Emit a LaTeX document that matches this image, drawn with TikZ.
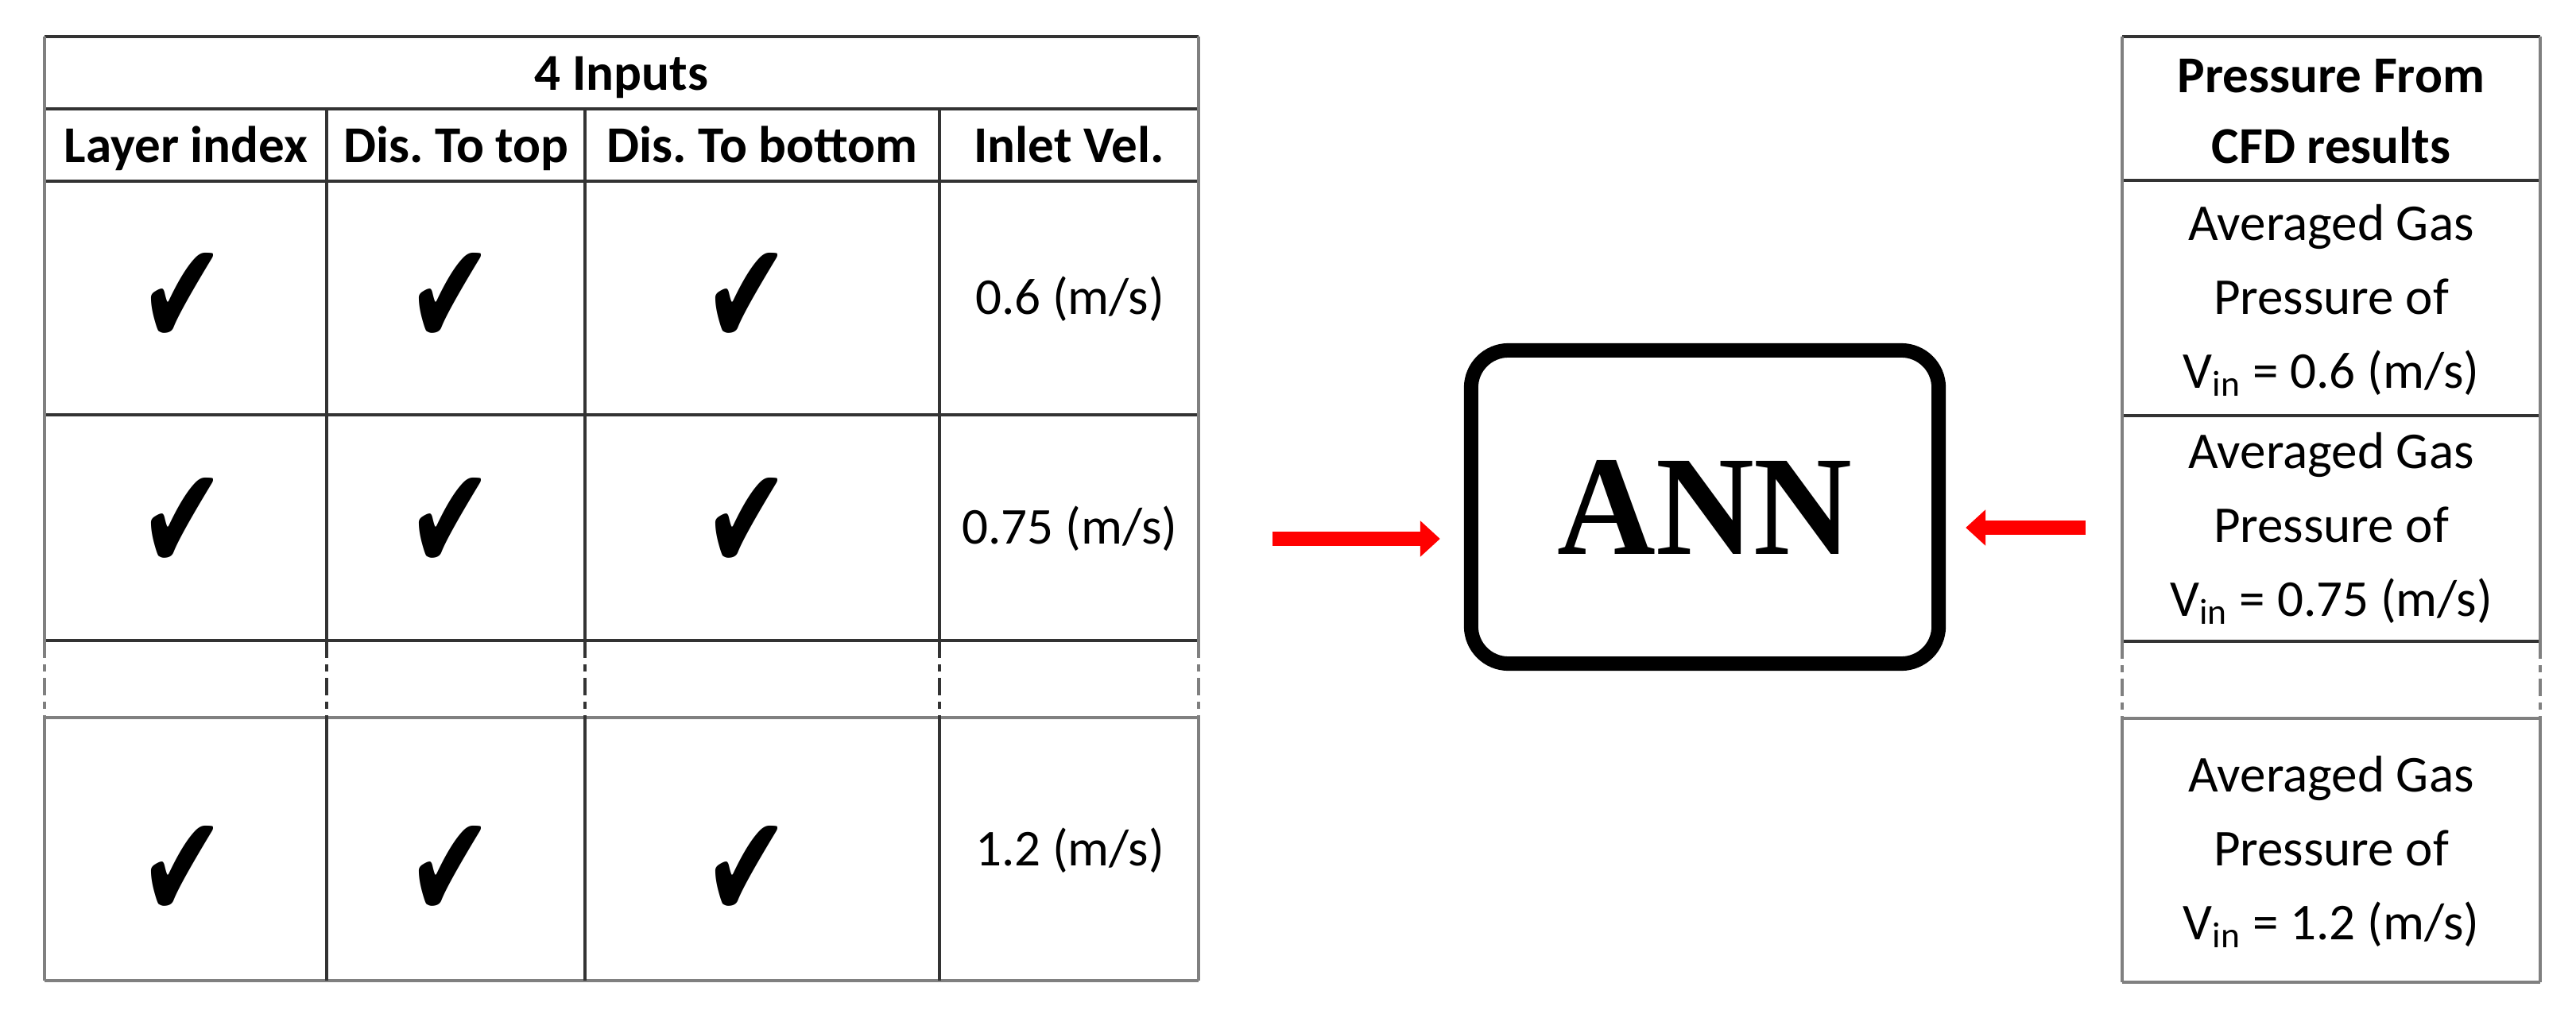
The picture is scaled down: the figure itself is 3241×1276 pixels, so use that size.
\documentclass[tikz,border=0pt]{standalone}
\usepackage{fontspec}
\setmainfont{Carlito}
\newfontfamily\annfont{Liberation Serif}
\newfontfamily\chkfont{DejaVu Sans}
\usetikzlibrary{arrows.meta}
\newcommand{\chkmk}{\resizebox*{1.08cm}{1.17cm}{\chkfont ✔}}
\frenchspacing
\begin{document}
\begin{tikzpicture}[x=0.01cm,y=-0.01cm,
  outerline/.style={draw=black!50, line width=0.045cm},
  innerline/.style={draw=black!80, line width=0.032cm},
  dashline/.style={line width=0.038cm, dash pattern=on 0.22cm off 0.08cm on 0.09cm off 0.08cm},
  hdr/.style={font=\fontsize{18.5}{22}\selectfont\bfseries, inner sep=0, anchor=base},
  val/.style={font=\fontsize{18.5}{22}\selectfont, inner sep=0, anchor=base},
  cell/.style={font=\fontsize{18.5}{26.5}\selectfont, inner sep=0, align=center},
  hcell/.style={font=\fontsize{18.5}{25.5}\selectfont\bfseries, inner sep=0, align=center},
  chkmark/.style={inner sep=0},
  annbox/.style={draw, line width=0.18cm, rounded corners=0.47cm, minimum width=5.88cm, minimum height=3.94cm, inner sep=0},
  redarrow/.style={draw=red, line width=0.17cm, -{Triangle[length=0.25cm,width=0.44cm]}}
]
\useasboundingbox (0,0) rectangle (3241,1276);

% ---------- left table ----------
\foreach \yy in {46,137,228,522,806} \draw[innerline] (56,\yy) -- (1508,\yy);
\foreach \yy in {903,1234} \draw[outerline] (56,\yy) -- (1508,\yy);
\foreach \xx in {56,1508} {
  \draw[outerline] (\xx,46) -- (\xx,806);
  \draw[outerline] (\xx,903) -- (\xx,1234);
  \draw[outerline,dashline] (\xx,806) -- (\xx,903);
}
\foreach \xx in {411,736,1182} {
  \draw[innerline] (\xx,137) -- (\xx,806);
  \draw[innerline] (\xx,903) -- (\xx,1234);
  \draw[innerline,dashline] (\xx,806) -- (\xx,903);
}

\node[hdr] (inputs) at (782,114) {4 Inputs};
\node[hdr] (h1) at (234,205) {Layer index};
\node[hdr] (h2) at (574,205) {Dis. To top};
\node[hdr] (h3) at (959,205) {Dis. To bottom};
\node[hdr] (h4) at (1345,205) {Inlet Vel.};

\node[chkmark] (c11) at (230,377) {\chkmk};
\node[chkmark] (c12) at (567,377) {\chkmk};
\node[chkmark] (c13) at (940,377) {\chkmk};
\node[chkmark] (c21) at (230,660) {\chkmk};
\node[chkmark] (c22) at (567,660) {\chkmk};
\node[chkmark] (c23) at (940,660) {\chkmk};
\node[chkmark] (c31) at (230,1098) {\chkmk};
\node[chkmark] (c32) at (567,1098) {\chkmk};
\node[chkmark] (c33) at (940,1098) {\chkmk};

\node[val] (v1) at (1346,396) {0.6 (m/s)};
\node[val] (v2) at (1346,684) {0.75 (m/s)};
\node[val] (v3) at (1346,1089) {1.2 (m/s)};

% ---------- right table ----------
\foreach \yy in {46,227,523,807} \draw[innerline] (2670,\yy) -- (3196,\yy);
\foreach \yy in {904,1236} \draw[outerline] (2670,\yy) -- (3196,\yy);
\foreach \xx in {2670,3196} {
  \draw[outerline] (\xx,46) -- (\xx,807);
  \draw[outerline] (\xx,904) -- (\xx,1236);
  \draw[outerline,dashline] (\xx,807) -- (\xx,904);
}
\node[hcell] (ph) at (2933,140) {Pressure From\\CFD results};
\node[cell] (p1) at (2933,378) {Averaged Gas\\Pressure of\\V\textsubscript{in} = 0.6 (m/s)};
\node[cell] (p2) at (2933,665) {Averaged Gas\\Pressure of\\V\textsubscript{in} = 0.75 (m/s)};
\node[cell] (p3) at (2933,1072) {Averaged Gas\\Pressure of\\V\textsubscript{in} = 1.2 (m/s)};

% ---------- ANN ----------
\node[annbox] (ann) at (2145,638) {\resizebox{3.71cm}{1.18cm}{\annfont\bfseries ANN}};

\coordinate (lt) at (1601,678);
\coordinate (rt) at (2624,664);
\draw[redarrow, shorten >=0.3cm] (lt) -- (lt -| ann.west);
\draw[redarrow, shorten >=0.25cm] (rt) -- (rt -| ann.east);
\end{tikzpicture}
\end{document}
